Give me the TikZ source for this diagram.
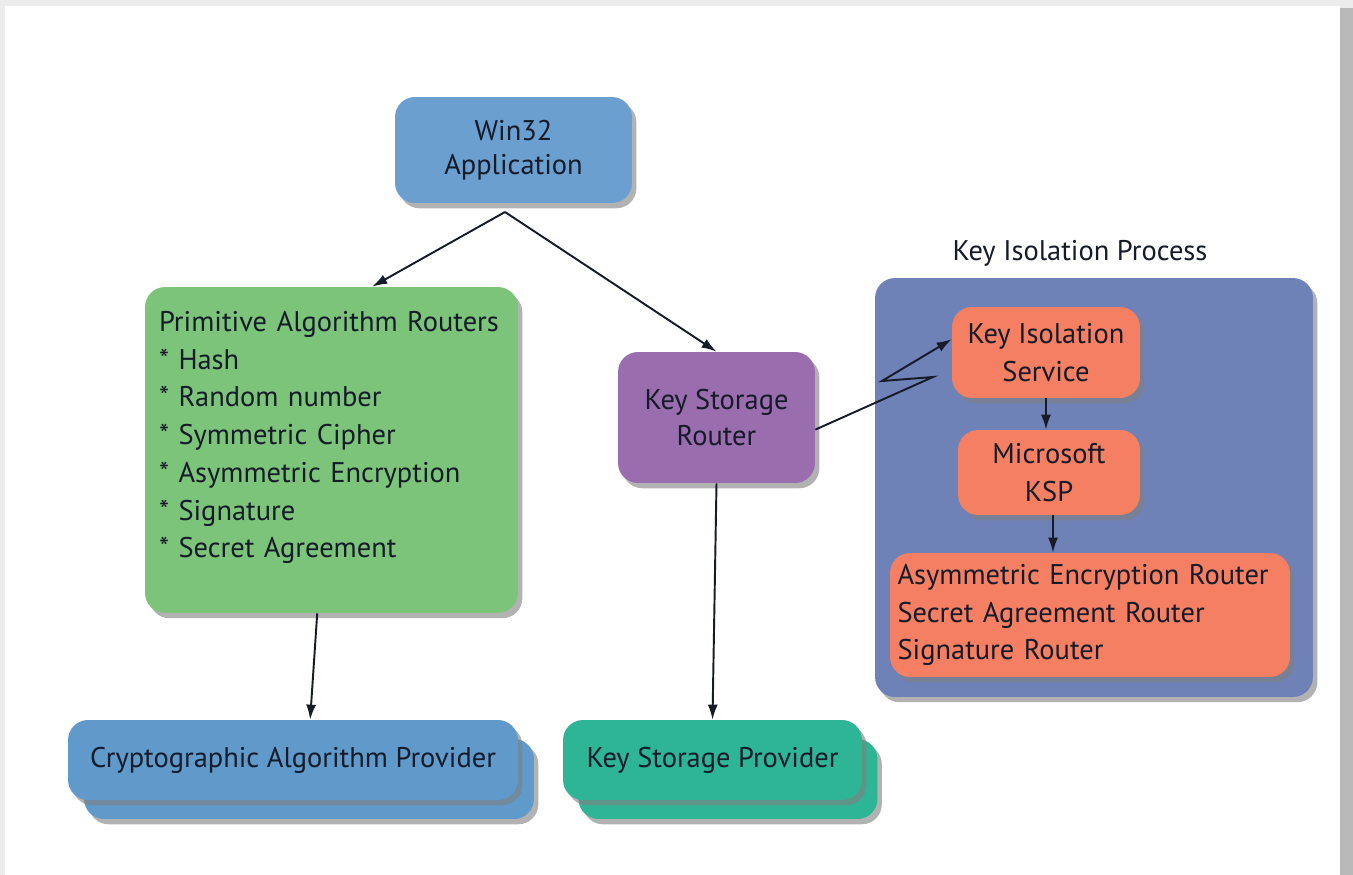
\documentclass[tikz,border=0pt]{standalone}
\usepackage{fontspec}
\setmainfont{PT Sans}
\usetikzlibrary{arrows.meta,shadows,calc}

\definecolor{winblue}{HTML}{6A9FCF}
\definecolor{provblue}{HTML}{5F9ACB}
\definecolor{primgreen}{HTML}{7CC47A}
\definecolor{routerpurple}{HTML}{9A6DAF}
\definecolor{provteal}{HTML}{2EB595}
\definecolor{procblue}{HTML}{6E82B8}
\definecolor{isosalmon}{HTML}{F47F62}
\definecolor{inkdark}{HTML}{161B2A}

\begin{document}
\begin{tikzpicture}[
    x=0.02cm, y=-0.02cm,
    box/.style={rectangle, rounded corners=0.4cm, inner sep=0pt, align=center,
        text=inkdark, font=\fontsize{16.2}{19.5}\selectfont,
        drop shadow={opacity=0.6, shadow xshift=2.5pt, shadow yshift=-3pt}},
    link/.style={-{Latex[length=3mm, width=2mm]}, line width=1.1pt, inkdark}
]
    % frame
    \fill[gray!15] (0,0) rectangle (1353,875);
    \fill[gray!55] (1336,8) rectangle (1353,875);
    \fill[white] (5,6) rectangle (1340,875);
    \useasboundingbox (0,0) rectangle (1353,875);

    \node[box, fill=winblue, minimum width=4.74cm, minimum height=2.12cm] (win) at (513.5,150) {Win32\\Application};

    \node[box, fill=primgreen, minimum width=7.46cm, minimum height=6.52cm,
        text width=6.9cm, align=left, font=\fontsize{16.2}{21.5}\selectfont] (prim) at (331.5,450)
        {Primitive Algorithm Routers\\{*} Hash\\{*} Random number\\{*} Symmetric Cipher\\{*} Asymmetric Encryption\\{*} Signature\\{*} Secret Agreement\par\vspace*{0.5cm}};

    \node[box, fill=routerpurple, minimum width=3.94cm, minimum height=2.62cm,
        font=\fontsize{16.2}{21}\selectfont] (ksr) at (716.5,417.5) {Key Storage\\Router};

    % providers (stacked)
    \node[box, fill=provblue, minimum width=9.0cm, minimum height=1.6cm] (capback) at (309,779) {};
    \node[box, fill=provblue, minimum width=9.0cm, minimum height=1.6cm] (cap) at (293,760) {Cryptographic Algorithm Provider};
    \node[box, fill=provteal, minimum width=5.98cm, minimum height=1.6cm] (kspback) at (728,779) {};
    \node[box, fill=provteal, minimum width=5.98cm, minimum height=1.6cm] (ksp) at (712.5,760) {Key Storage Provider};

    % key isolation process
    \node[text=inkdark, font=\fontsize{16.2}{19.5}\selectfont] (proclabel) at (1080,253) {Key Isolation Process};
    \node[box, fill=procblue, minimum width=8.76cm, minimum height=8.38cm] (proc) at (1094,487.5) {};
    \node[box, fill=isosalmon, minimum width=3.76cm, minimum height=1.82cm,
        font=\fontsize{16.2}{21.5}\selectfont] (kis) at (1046,352.5) {Key Isolation\\Service};
    \node[box, fill=isosalmon, minimum width=3.64cm, minimum height=1.7cm,
        font=\fontsize{16.2}{21.5}\selectfont] (mksp) at (1049,472.5) {Microsoft\\KSP};
    \node[box, fill=isosalmon, minimum width=8.0cm, minimum height=2.48cm,
        text width=7.7cm, align=left, font=\fontsize{16.2}{21.5}\selectfont] (rtr) at (1090,615)
        {Asymmetric Encryption Router\\Secret Agreement Router\\Signature Router};

    \coordinate (split) at (505,212);
    \coordinate (zz1) at (933,377);
    \coordinate (zz2) at (882,381);

    \draw[link] (split) -- (prim.76);
    \draw[link] (split) -- (ksr.north);
    \draw[link] (prim.265) -- (cap.67);
    \draw[link] (ksr.south) -- (ksp.north);
    \draw[link] (ksr.-7) -- (zz1) -- (zz2) -- (kis.172);
    \draw[link] (kis.south) -- (kis.south |- mksp.north);
    \draw[link] ($(mksp.south)+(4,0)$) -- ($(mksp.south |- rtr.north)+(4,0)$);
\end{tikzpicture}
\end{document}
